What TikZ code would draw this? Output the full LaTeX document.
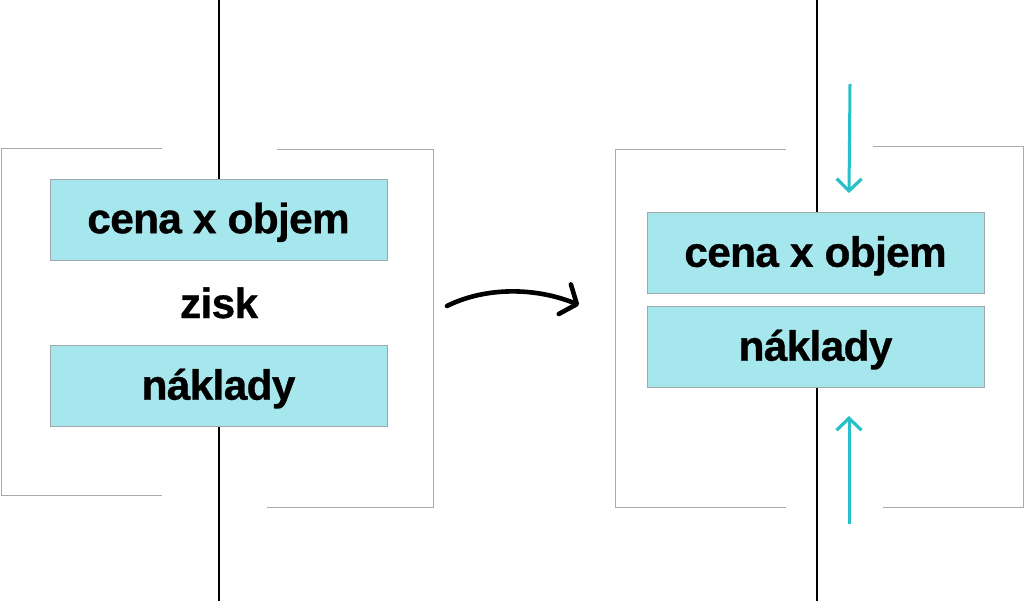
\documentclass[tikz,border=0pt]{standalone}
\usepackage{fontspec}
\setmainfont{Liberation Sans}[BoldFeatures={FakeBold=0.8,LetterSpace=-1.5}]
\usetikzlibrary{arrows.meta}
\definecolor{boxfill}{HTML}{A5E7EC}
\definecolor{boxline}{HTML}{9FA9AB}
\definecolor{frameline}{HTML}{AAAAAA}
\definecolor{tealarrow}{HTML}{29BFC8}
\tikzset{
  lbl/.style={font=\fontsize{42.3}{52}\selectfont\bfseries},
  cbox/.style={lbl, draw=boxline, line width=1pt, fill=boxfill, minimum width=337pt, minimum height=81pt, inner sep=0pt, text height=31pt, text depth=4pt},
  plain/.style={lbl, inner sep=0pt},
  axis/.style={black, line width=2pt},
  frame/.style={frameline, line width=1pt},
  push/.style={tealarrow, line width=3pt, -{Straight Barb[length=12pt,width=25pt,line width=3.2pt]}},
  bigarrow/.style={black, line width=4.6pt, line cap=round, -{Straight Barb[length=13pt,width=32pt,line width=4.6pt,round]}}
}
\begin{document}
\begin{tikzpicture}[x=1pt,y=-1pt]
\useasboundingbox (0,0) rectangle (1024,601);
% left frame
\draw[frame] (162,149) -- (1,149) -- (1,495) -- (162,495);
\draw[frame] (277,149.5) -- (433,149.5) -- (433,507) -- (267,507);
% right frame
\draw[frame] (786,149.5) -- (615.5,149.5) -- (615.5,507.5) -- (786,507.5);
\draw[frame] (873,146.5) -- (1023,146.5) -- (1023,507.5) -- (883,507.5);
% left nodes
\node[cbox] (lbox1) at (218.5,219.7) {cena x objem};
\node[plain, anchor=base] (zisk) at (219,318) {zisk};
\node[cbox] (lbox2) at (218.5,386.2) {náklady};
% right nodes
\node[cbox] (rbox1) at (815.5,253.3) {cena x objem};
\node[cbox] (rbox2) at (815.5,347.2) {náklady};
% axes
\coordinate (ltop) at (219,0);
\coordinate (lbot) at (219,601);
\coordinate (rtop) at (816.7,0);
\coordinate (rbot) at (816.7,601);
\draw[axis] (ltop) -- (lbox1.north -| ltop);
\draw[axis] (lbox2.south -| lbot) -- (lbot);
\draw[axis] (rtop) -- (rbox1.north -| rtop);
\draw[axis] (rbox2.south -| rbot) -- (rbot);
% teal arrows
\coordinate (pa1) at (850,84);
\coordinate (pa2) at (849,193);
\coordinate (pb1) at (849,524);
\coordinate (pb2) at (849,416);
\draw[push] (pa1) -- (pa2);
\draw[push] (pb1) -- (pb2);
% big curved arrow
\coordinate (ca) at (447,306);
\coordinate (cb) at (579,305);
\draw[bigarrow] (ca) .. controls (485,287) and (535,287) .. (cb);
\end{tikzpicture}
\end{document}
